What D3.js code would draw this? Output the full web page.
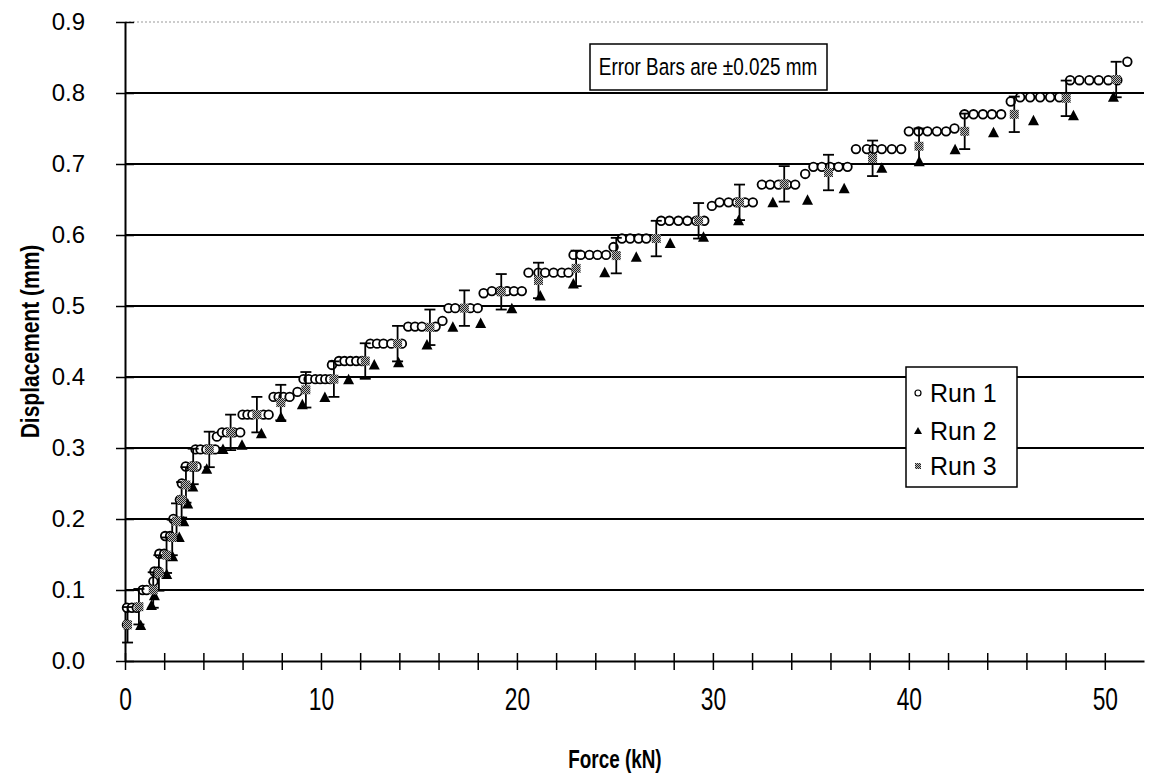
<!DOCTYPE html>
<html>
<head>
<meta charset="utf-8">
<script src="https://cdn.jsdelivr.net/npm/d3@7"></script>
<style>
  body { margin: 0; background: #fff; }
  text { font-family: "Liberation Sans", Arial, sans-serif; fill: #000; }
</style>
</head>
<body>
<script>
// force (kN), displacement (mm)
var run1 = [
  [0.1,0.051],[0.1,0.075],[0.35,0.075],[0.6,0.075],[0.9,0.1],[1.1,0.1],[1.45,0.112],
  [1.5,0.126],[1.7,0.126],[1.75,0.151],[2.0,0.151],[2.05,0.176],[2.3,0.176],[2.47,0.2],
  [2.8,0.227],[2.9,0.25],[3.1,0.274],[3.4,0.274],[3.65,0.274],
  [3.6,0.298],[3.85,0.298],[4.15,0.298],[4.4,0.298],[4.6,0.298],[4.69,0.316],
  [4.95,0.322],[5.2,0.322],[5.55,0.322],[5.88,0.322],
  [6.0,0.347],[6.25,0.347],[6.5,0.347],[7.07,0.347],[7.33,0.347],
  [7.58,0.372],[7.84,0.372],[8.09,0.372],[8.4,0.372],[8.8,0.379],
  [9.11,0.397],[9.37,0.397],[9.71,0.397],[9.96,0.397],[10.22,0.397],[10.47,0.397],[10.56,0.417],
  [10.92,0.4225],[11.2,0.4225],[11.5,0.4225],[11.8,0.4225],[12.09,0.4225],
  [12.52,0.447],[12.86,0.447],[13.19,0.447],[13.59,0.447],[14.13,0.447],
  [14.45,0.471],[14.8,0.471],[15.15,0.471],[15.85,0.471],[16.2,0.479],
  [16.51,0.497],[16.85,0.497],[17.62,0.497],[18.0,0.497],
  [18.3,0.518],[18.72,0.521],[19.15,0.521],[19.49,0.521],[19.85,0.521],[20.25,0.521],
  [20.59,0.547],[21.1,0.547],[21.44,0.547],[21.87,0.547],[22.29,0.547],[22.63,0.547],
  [22.89,0.572],[23.26,0.572],[23.7,0.572],[24.11,0.572],[24.55,0.572],[24.93,0.583],
  [25.36,0.595],[25.78,0.595],[26.21,0.595],[26.6,0.595],
  [27.36,0.62],[27.78,0.62],[28.24,0.62],[28.7,0.62],[29.15,0.62],[29.56,0.62],[29.95,0.641],
  [30.34,0.646],[30.8,0.646],[31.22,0.646],[31.64,0.646],[32.04,0.646],
  [32.5,0.671],[32.92,0.671],[33.35,0.671],[33.78,0.671],[34.2,0.671],[34.71,0.686],
  [35.13,0.696],[35.56,0.696],[35.98,0.696],[36.41,0.696],[36.87,0.696],
  [37.3,0.721],[37.86,0.721],[38.2,0.721],[38.62,0.721],[39.13,0.721],[39.61,0.721],
  [40.0,0.746],[40.49,0.746],[40.95,0.746],[41.43,0.746],[41.9,0.746],[42.33,0.75],
  [42.84,0.77],[43.3,0.77],[43.78,0.77],[44.24,0.77],[44.71,0.77],[45.2,0.788],
  [45.68,0.794],[46.19,0.794],[46.7,0.794],[47.21,0.794],[47.68,0.794],
  [48.23,0.818],[48.7,0.818],[49.21,0.818],[49.69,0.818],[50.18,0.818],[50.64,0.818],[51.15,0.844]
];

var run2 = [
  [0.8,0.05],[1.35,0.078],[1.5,0.092],[2.13,0.122],[2.43,0.147],[2.77,0.174],[3.0,0.196],
  [3.2,0.221],[3.46,0.245],[4.17,0.27],[5.0,0.298],[5.97,0.304],[6.96,0.32],[7.96,0.343],
  [9.05,0.361],[10.2,0.371],[11.41,0.396],[12.72,0.417],[13.96,0.42],[15.41,0.445],
  [16.73,0.47],[18.15,0.4755],[19.74,0.496],[21.19,0.514],[22.88,0.531],[24.48,0.547],
  [26.09,0.5685],[27.82,0.588],[29.52,0.597],[31.31,0.62],[33.06,0.6455],[34.83,0.649],
  [36.7,0.665],[38.62,0.694],[40.53,0.703],[42.36,0.72],[44.32,0.744],[46.36,0.761],
  [48.4,0.768],[50.44,0.794]
];

var run3 = [
  [0.13,0.051],[0.71,0.0765],[1.44,0.1],[1.73,0.124],[2.12,0.149],[2.41,0.174],[2.63,0.197],
  [2.89,0.227],[3.11,0.248],[3.48,0.274],[4.3,0.298],[5.39,0.322],[6.73,0.347],[7.95,0.364],
  [9.23,0.382],[10.66,0.397],[12.26,0.4225],[13.91,0.447],[15.56,0.47],[17.32,0.497],
  [19.2,0.52],[21.1,0.536],[23.02,0.553],[25.07,0.571],[27.11,0.595],[29.27,0.62],
  [31.36,0.646],[33.64,0.672],[35.9,0.688],[38.15,0.708],[40.52,0.725],[42.85,0.746],
  [45.38,0.77],[48.03,0.7925],[50.58,0.819]
];

var errorBar = 0.025;
var seriesNames = ["Run 1", "Run 2", "Run 3"];
var xTicks = d3.range(0, 51, 2);
var yTicks = d3.range(0, 0.91, 0.1);

var W = 1157, H = 776;
var margin = {top: 22, right: 13, bottom: 115, left: 125};

var x = d3.scaleLinear().domain([0, 52]).range([margin.left, W - margin.right]);
var y = d3.scaleLinear().domain([0, 0.9]).range([H - margin.bottom, margin.top]);

var svg = d3.select("body").append("svg")
    .attr("width", W)
    .attr("height", H);

svg.append("rect").attr("width", W).attr("height", H).attr("fill", "#fff");

// checker pattern for the grey markers
var pat = svg.append("defs").append("pattern")
    .attr("id", "hatch")
    .attr("patternUnits", "userSpaceOnUse")
    .attr("width", 2).attr("height", 2);
pat.append("rect").attr("width", 2).attr("height", 2).attr("fill", "#bbb");
pat.append("rect").attr("width", 1).attr("height", 1).attr("fill", "#222");
pat.append("rect").attr("x", 1).attr("y", 1).attr("width", 1).attr("height", 1).attr("fill", "#222");

// gridlines
svg.append("g")
  .selectAll("line")
  .data(yTicks.slice(1))
  .enter().append("line")
    .attr("x1", x(0))
    .attr("x2", x(52))
    .attr("y1", function(d) { return y(d); })
    .attr("y2", function(d) { return y(d); })
    .attr("stroke", function(d) { return d > 0.85 ? "#999" : "#000"; })
    .attr("stroke-width", function(d) { return d > 0.85 ? 1 : 2; })
    .attr("stroke-dasharray", function(d) { return d > 0.85 ? "2,2" : null; });

// axes
var xAxis = d3.axisBottom(x)
    .tickValues(xTicks)
    .tickSizeOuter(0)
    .tickPadding(0)
    .tickFormat(function(d) { return d % 10 === 0 ? d : ""; });

var gx = svg.append("g")
    .attr("transform", "translate(0," + y(0) + ")")
    .call(xAxis);
gx.select(".domain").attr("stroke-width", 2);
gx.selectAll(".tick line").attr("y1", -8).attr("y2", 9).attr("stroke-width", 1.5);
gx.selectAll(".tick text")
    .attr("y", 0).attr("dy", 0)
    .attr("transform", "translate(0,49) scale(0.95,1.3)")
    .attr("font-size", 24)
    .attr("font-family", "Liberation Sans, Arial, sans-serif");

var yAxis = d3.axisLeft(y)
    .tickValues(yTicks)
    .tickSizeOuter(0)
    .tickPadding(34)
    .tickFormat(d3.format(".1f"));

var gy = svg.append("g")
    .attr("transform", "translate(" + x(0) + ",0)")
    .call(yAxis);
gy.select(".domain").attr("stroke-width", 2);
gy.selectAll(".tick line").attr("x1", -9).attr("x2", 9).attr("stroke-width", 1.5);
gy.selectAll(".tick text")
    .attr("font-size", 24)
    .attr("font-family", "Liberation Sans, Arial, sans-serif");

// axis titles
svg.append("text")
    .attr("transform", "translate(" + x(25) + ",768) scale(0.9,1.25)")
    .attr("text-anchor", "middle")
    .attr("font-size", 21)
    .attr("font-weight", "bold")
    .text("Force (kN)");

svg.append("text")
    .attr("transform", "translate(39," + y(0.45) + ") rotate(-90) scale(1,1.25)")
    .attr("text-anchor", "middle")
    .attr("font-size", 21)
    .attr("font-weight", "bold")
    .text("Displacement (mm)");

// run 1 - open circles
svg.append("g")
  .selectAll("circle")
  .data(run1)
  .enter().append("circle")
    .attr("cx", function(d) { return x(d[0]); })
    .attr("cy", function(d) { return y(d[1]); })
    .attr("r", 4.3)
    .attr("fill", "#fff")
    .attr("stroke", "#000")
    .attr("stroke-width", 1.8);

// run 2 - filled triangles
var tri = "M0,-6L5.5,4.5L-5.5,4.5Z";
svg.append("g")
  .selectAll("path")
  .data(run2)
  .enter().append("path")
    .attr("transform", function(d) { return "translate(" + x(d[0]) + "," + y(d[1]) + ")"; })
    .attr("d", tri)
    .attr("fill", "#000");

// run 3 - error bars then grey squares
var eb = svg.append("g").attr("stroke", "#000").attr("stroke-width", 1.8);
run3.forEach(function(d) {
  var cx = x(d[0]), y0 = y(d[1] - errorBar), y1 = y(d[1] + errorBar);
  eb.append("line").attr("x1", cx).attr("x2", cx).attr("y1", y0).attr("y2", y1);
  eb.append("line").attr("x1", cx - 5.5).attr("x2", cx + 5.5).attr("y1", y0).attr("y2", y0);
  eb.append("line").attr("x1", cx - 5.5).attr("x2", cx + 5.5).attr("y1", y1).attr("y2", y1);
});

svg.append("g")
  .selectAll("rect")
  .data(run3)
  .enter().append("rect")
    .attr("x", function(d) { return x(d[0]) - 4.5; })
    .attr("y", function(d) { return y(d[1]) - 4.5; })
    .attr("width", 9)
    .attr("height", 9)
    .attr("fill", "url(#hatch)");

// error bar note
var note = svg.append("g");
note.append("rect")
    .attr("x", 590).attr("y", 44)
    .attr("width", 237).attr("height", 46)
    .attr("fill", "#fff")
    .attr("stroke", "#000")
    .attr("stroke-width", 1.5);
note.append("text")
    .attr("transform", "translate(708,75) scale(0.86,1.08)")
    .attr("text-anchor", "middle")
    .attr("font-size", 22)
    .text("Error Bars are \u00b10.025 mm");

// legend
var lg = svg.append("g");
lg.append("rect")
    .attr("x", 906).attr("y", 367)
    .attr("width", 111).attr("height", 120)
    .attr("fill", "#fff")
    .attr("stroke", "#000")
    .attr("stroke-width", 1.5);

var ly = [393, 431, 466];
seriesNames.forEach(function(name, i) {
  lg.append("text")
      .attr("x", 930).attr("y", ly[i] + 9)
      .attr("font-size", 25)
      .text(name);
});
lg.append("circle").attr("cx", 918).attr("cy", ly[0]).attr("r", 3)
    .attr("fill", "#fff").attr("stroke", "#000").attr("stroke-width", 1.2);
lg.append("path").attr("transform", "translate(918," + ly[1] + ")")
    .attr("d", "M0,-4L4,3L-4,3Z").attr("fill", "#000");
lg.append("rect").attr("x", 915).attr("y", ly[2] - 3).attr("width", 6).attr("height", 6)
    .attr("fill", "url(#hatch)");
</script>
</body>
</html>
